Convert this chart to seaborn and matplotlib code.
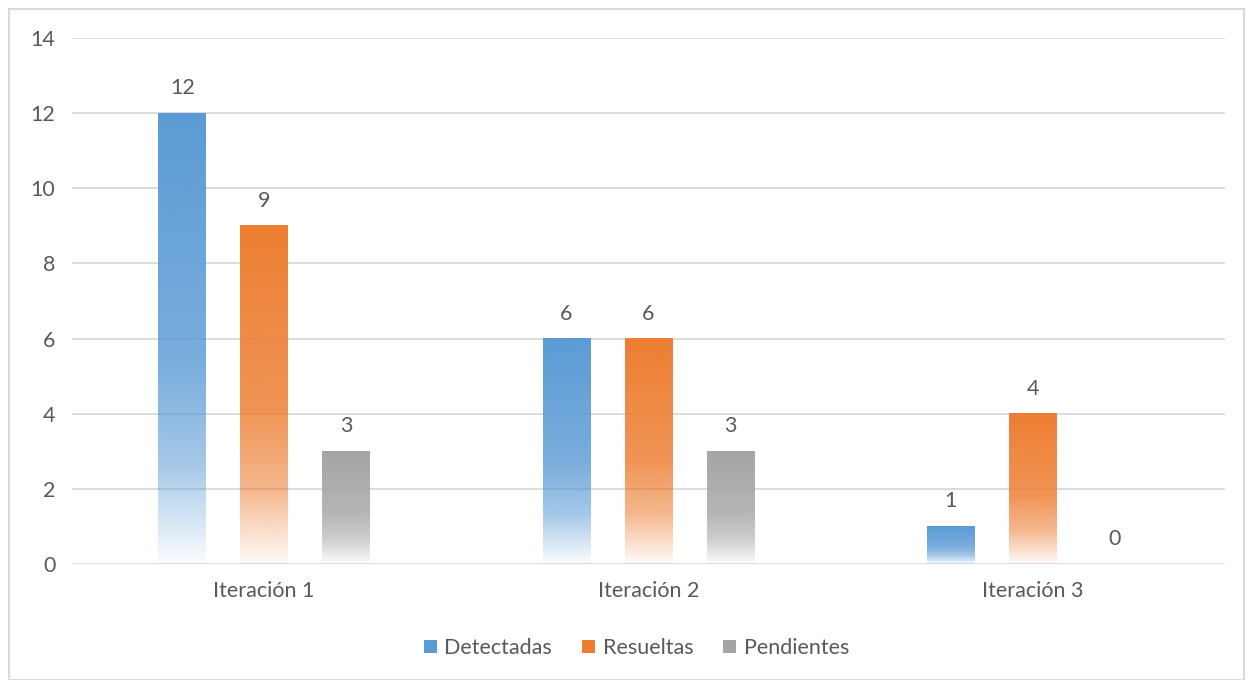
import numpy as np
import pandas as pd
import seaborn as sns
from matplotlib import pyplot as plt
from matplotlib.patches import Rectangle, Patch
from matplotlib.colors import to_rgb

iteraciones = ['Iteración 1', 'Iteración 2', 'Iteración 3']
series = ['Detectadas', 'Resueltas', 'Pendientes']
detectadas = [12, 6, 1]
resueltas = [9, 6, 4]
pendientes = [3, 3, 0]
colores = ['#5B9BD5', '#ED7D31', '#A5A5A5']

df = pd.DataFrame({
    'Iteracion': iteraciones * 3,
    'Serie': [s for s in series for _ in iteraciones],
    'Valor': detectadas + resueltas + pendientes,
})

sns.set_style('white')
plt.rcParams['font.family'] = ['Lato', 'DejaVu Sans']
texto = '#595959'
fs = 15.5

fig = plt.figure(figsize=(12.48, 6.8), dpi=100)
ax = fig.add_axes([0.0577, 0.1706, 0.9239, 0.7735])

sns.barplot(data=df, x='Iteracion', y='Valor', hue='Serie', hue_order=series,
            palette=colores, saturation=1, width=0.64, gap=0.415, ax=ax,
            legend=False, errorbar=None, zorder=2)

ax.set_ylim(0, 14)
ax.set_xlim(-0.5, 2.5)
ax.set_yticks(range(0, 15, 2))
ax.yaxis.grid(True, color='#D9D9D9', linewidth=1.3, zorder=0)
ax.set_axisbelow(True)
for s in ax.spines.values():
    s.set_visible(False)
ax.tick_params(axis='both', length=0, labelsize=fs, colors=texto)
ax.tick_params(axis='y', pad=12)
ax.tick_params(axis='x', pad=12)
ax.set_xlabel('')
ax.set_ylabel('')

# gradiente vertical en cada barra, de color solido arriba a casi blanco abajo
t = np.linspace(0, 1, 256)
alfa = np.interp(t, [0, 0.55, 0.78, 1.0], [1.0, 0.82, 0.55, 0.03])
patches = [p for p in ax.patches if isinstance(p, Rectangle)]
for p in patches:
    x0, y0 = p.get_x(), p.get_y()
    w, h = p.get_width(), p.get_height()
    col = to_rgb(p.get_facecolor())
    p.set_facecolor('none')
    p.set_edgecolor('none')
    ax.text(x0 + w / 2, h + 0.4, f'{int(h)}', ha='center', va='bottom',
            fontsize=fs, color=texto)
    if h <= 0:
        continue
    img = np.zeros((256, 1, 4))
    img[:, 0, :3] = col
    img[:, 0, 3] = alfa
    ax.imshow(img, extent=[x0, x0 + w, y0, y0 + h], origin='upper',
              aspect='auto', zorder=2, interpolation='bilinear')

ax.set_xlim(-0.5, 2.5)
ax.set_ylim(0, 14)

handles = [Patch(facecolor=c, edgecolor='none') for c in colores]
fig.legend(handles, series, loc='center', bbox_to_anchor=(0.51, 0.047),
           ncol=3, frameon=False, fontsize=fs, labelcolor=texto,
           handlelength=0.6, handleheight=0.6, handletextpad=0.35,
           columnspacing=1.4)

fig.patches.append(Rectangle((0.007, 0.0), 0.99, 0.987, transform=fig.transFigure,
                             fill=False, edgecolor='#D9D9D9', linewidth=1.5))

fig.savefig('out.png', dpi=100)
